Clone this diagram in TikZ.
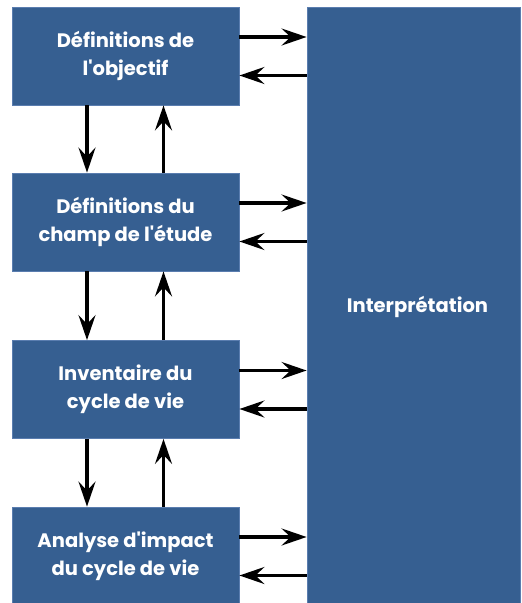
\documentclass[tikz,border=0pt]{standalone}
\usepackage{fontspec}
\setmainfont{Poppins}[Ligatures=TeXOff]
\usetikzlibrary{arrows.meta}
\definecolor{boxblue}{RGB}{54,95,145}
\definecolor{edgeblue}{RGB}{90,125,175}
\tikzset{
  stage/.style={fill=boxblue, draw=edgeblue, line width=0.8pt, minimum width=227pt, minimum height=98pt,
    inner sep=0pt, text=white, align=center, font=\fontsize{19.5}{28}\selectfont\bfseries},
  bigbox/.style={fill=boxblue, draw=edgeblue, line width=0.8pt, minimum width=213pt, minimum height=600pt,
    inner sep=0pt, text=white, align=center, font=\fontsize{19.5}{28}\selectfont\bfseries},
  flow/.style={line width=3.3pt, -{Stealth[length=25pt,width=17pt,inset=9pt]}}
}
\begin{document}
\begin{tikzpicture}[x=1pt,y=-1pt]
\useasboundingbox (0,0) rectangle (522,603);
\begin{scope}
\clip (0,0) rectangle (522,603);
\node[stage] (b1) at (125.5,56) {Définitions de\\l'objectif};
\node[stage] (b2) at (125.5,222) {Définitions du\\champ de l'étude};
\node[stage] (b3) at (125.5,389.5) {Inventaire du\\cycle de vie};
\node[stage] (b4) at (125.5,556) {Analyse d'impact\\du cycle de vie};
\node[bigbox] (r) at (413.5,307) {\hspace*{8pt}Interprétation};

\foreach \a/\b in {b1/b2,b2/b3,b3/b4}{
  \draw[flow] ([xshift=-38.5pt]\a.south) -- ([xshift=-38.5pt]\b.north);
  \draw[flow] ([xshift=38pt]\b.north) -- ([xshift=38pt]\a.south);
}
\foreach \a in {b1,b2,b3,b4}{
  \draw[flow] ([yshift=19pt]\a.east) -- ([yshift=19pt]\a.east -| r.west);
  \draw[flow] ([yshift=-19.5pt]\a.east -| r.west) -- ([yshift=-19.5pt]\a.east);
}
\end{scope}
\end{tikzpicture}
\end{document}
